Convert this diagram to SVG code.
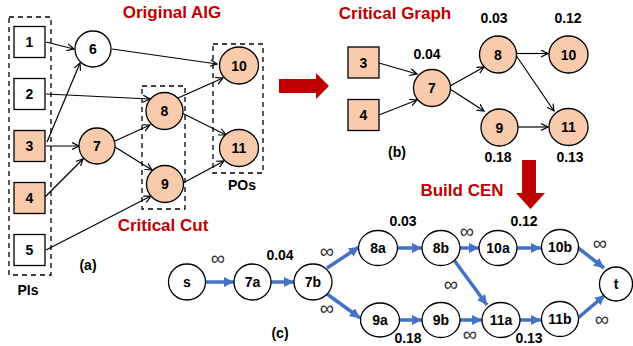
<svg xmlns="http://www.w3.org/2000/svg" width="633" height="346" viewBox="0 0 633 346">
<defs>
<marker id="ah" markerUnits="userSpaceOnUse" markerWidth="10" markerHeight="10" refX="7" refY="4" orient="auto">
<path d="M0,0.5 L7,4 L0,7.5" fill="none" stroke="#000" stroke-width="1.2"/>
</marker>
<marker id="bh" markerUnits="userSpaceOnUse" markerWidth="12" markerHeight="12" refX="10" refY="5" orient="auto">
<path d="M0,0 L10,5 L0,10 z" fill="#4472C4"/>
</marker>
<style>
text{font-family:"Liberation Sans",Arial,sans-serif;text-anchor:middle}
.lb{font-size:14px;font-weight:bold;fill:#000}
.ttl{font-size:17px;font-weight:bold;fill:#C00000}
.inf{font-size:20px;fill:#333}
.n{fill:#fff;stroke:#000;stroke-width:1.3}
.o{fill:#F8CBAD;stroke:#000;stroke-width:1.3}
.box{fill:none;stroke:#000;stroke-width:1.3;stroke-dasharray:5,4}
.e{stroke:#000;stroke-width:1.2;fill:none;marker-end:url(#ah)}
.b{stroke:#4472C4;stroke-width:3.5;fill:none;marker-end:url(#bh)}
</style>
</defs>

<!-- titles -->
<text class="ttl" x="172" y="18">Original AIG</text>
<text class="ttl" x="395" y="19">Critical Graph</text>
<text class="ttl" x="163" y="231">Critical Cut</text>
<text class="ttl" x="462" y="196">Build CEN</text>

<!-- big arrows -->
<path d="M279,79 H316 V73 L329,86 L316,99 V93 H279 Z" fill="#C00000"/>
<path d="M522,160 H536 V193 H545 L530.5,209 L516,193 H522 Z" fill="#C00000"/>

<!-- (a) dashed boxes -->
<rect class="box" x="9" y="17" width="42" height="258"/>
<rect class="box" x="142" y="86" width="43" height="123"/>
<rect class="box" x="213" y="44" width="50" height="129"/>
<text class="lb" x="242" y="190">POs</text>
<text class="lb" x="28" y="295">PIs</text>
<text class="lb" x="88" y="270">(a)</text>

<!-- (a) connectors -->
<g id="a-edges">
<line class="e" x1="46" y1="42" x2="74" y2="49"/>
<line class="e" x1="47" y1="142" x2="80" y2="63"/>
<line class="e" x1="112" y1="49" x2="217" y2="64"/>
<line class="e" x1="46" y1="94" x2="150" y2="99"/>
<line class="e" x1="46" y1="146" x2="79" y2="146"/>
<line class="e" x1="45" y1="197" x2="83" y2="159"/>
<line class="e" x1="115" y1="141" x2="150" y2="125"/>
<line class="e" x1="115" y1="147" x2="152" y2="170"/>
<line class="e" x1="46" y1="250" x2="151" y2="196"/>
<line class="e" x1="178" y1="98" x2="223" y2="78"/>
<line class="e" x1="182" y1="113" x2="226" y2="135"/>
<line class="e" x1="183" y1="183" x2="224" y2="161"/>
</g>

<!-- (a) nodes -->
<g id="a1"><rect class="n" x="14" y="26.5" width="31" height="31"/><text class="lb" x="29.5" y="47">1</text></g>
<g id="a2"><rect class="n" x="14" y="78.5" width="31" height="31"/><text class="lb" x="29.5" y="99">2</text></g>
<g id="a3"><rect class="o" x="14" y="130.5" width="31" height="31"/><text class="lb" x="29.5" y="151">3</text></g>
<g id="a4"><rect class="o" x="14" y="182.5" width="31" height="31"/><text class="lb" x="29.5" y="203">4</text></g>
<g id="a5"><rect class="n" x="14" y="234.5" width="31" height="31"/><text class="lb" x="29.5" y="255">5</text></g>
<g id="a6"><circle class="n" cx="93" cy="49" r="18"/><text class="lb" x="93" y="54">6</text></g>
<g id="a7"><circle class="o" cx="97" cy="146" r="18"/><text class="lb" x="97" y="151">7</text></g>
<g id="a8"><circle class="o" cx="164.5" cy="111" r="18.5"/><text class="lb" x="164.5" y="116">8</text></g>
<g id="a9"><circle class="o" cx="165" cy="184" r="18.5"/><text class="lb" x="165" y="189">9</text></g>
<g id="a10"><ellipse class="o" cx="239" cy="65.5" rx="19.5" ry="18.5"/><text class="lb" x="239" y="70.5">10</text></g>
<g id="a11"><ellipse class="o" cx="239" cy="148" rx="19.5" ry="18.5"/><text class="lb" x="239" y="153">11</text></g>

<!-- (b) -->
<g id="b-edges">
<line class="e" x1="379" y1="63" x2="417" y2="74"/>
<line class="e" x1="379" y1="115" x2="417" y2="100"/>
<line class="e" x1="450" y1="86" x2="484" y2="67"/>
<line class="e" x1="450" y1="89" x2="484" y2="111"/>
<line class="e" x1="516" y1="53.5" x2="548" y2="53.5"/>
<line class="e" x1="516.5" y1="56" x2="554" y2="111"/>
<line class="e" x1="518" y1="127" x2="548" y2="127"/>
</g>
<g id="b3"><rect class="o" x="348" y="47" width="31" height="31"/><text class="lb" x="363.5" y="67.5">3</text></g>
<g id="b4"><rect class="o" x="348" y="99.5" width="31" height="31"/><text class="lb" x="363.5" y="120">4</text></g>
<g id="b7"><circle class="o" cx="432" cy="88" r="18.5"/><text class="lb" x="432" y="93">7</text></g>
<g id="b8"><circle class="o" cx="498" cy="54.5" r="18.5"/><text class="lb" x="498" y="59.5">8</text></g>
<g id="b9"><circle class="o" cx="499.5" cy="127.5" r="18.5"/><text class="lb" x="499.5" y="132.5">9</text></g>
<g id="b10"><ellipse class="o" cx="568.5" cy="54.5" rx="19.5" ry="18.5"/><text class="lb" x="568.5" y="59.5">10</text></g>
<g id="b11"><ellipse class="o" cx="568.5" cy="127" rx="19.5" ry="18.5"/><text class="lb" x="568.5" y="132">11</text></g>
<text class="lb" x="427" y="59">0.04</text>
<text class="lb" x="494" y="23">0.03</text>
<text class="lb" x="568" y="23">0.12</text>
<text class="lb" x="498" y="162">0.18</text>
<text class="lb" x="570" y="162">0.13</text>
<text class="lb" x="397" y="157">(b)</text>

<!-- (c) -->
<g id="c-edges">
<line class="b" x1="205" y1="282" x2="234" y2="282"/>
<line class="b" x1="271" y1="282" x2="294" y2="282"/>
<line class="b" x1="327" y1="268" x2="359" y2="247"/>
<line class="b" x1="327" y1="294" x2="360" y2="318"/>
<line class="b" x1="397" y1="248" x2="422" y2="248"/>
<line class="b" x1="460" y1="248" x2="479" y2="248"/>
<line class="b" x1="517" y1="248" x2="541" y2="248"/>
<line class="b" x1="577" y1="247" x2="604" y2="268"/>
<line class="b" x1="454" y1="260" x2="487" y2="305"/>
<line class="b" x1="399" y1="320" x2="422" y2="320"/>
<line class="b" x1="460" y1="320" x2="482" y2="320"/>
<line class="b" x1="520" y1="320" x2="541" y2="320"/>
<line class="b" x1="578" y1="318" x2="605" y2="295"/>
</g>
<g id="cs"><ellipse class="n" cx="187" cy="282" rx="18.5" ry="18"/><text class="lb" x="187" y="287">s</text></g>
<g id="c7a"><ellipse class="n" cx="252.5" cy="282" rx="18.5" ry="18"/><text class="lb" x="252.5" y="287">7a</text></g>
<g id="c7b"><ellipse class="n" cx="313" cy="282" rx="19" ry="18"/><text class="lb" x="313" y="287">7b</text></g>
<g id="c8a"><ellipse class="n" cx="378" cy="248" rx="19.5" ry="17.5"/><text class="lb" x="378" y="253">8a</text></g>
<g id="c8b"><ellipse class="n" cx="441" cy="248" rx="19" ry="17.5"/><text class="lb" x="441" y="253">8b</text></g>
<g id="c10a"><ellipse class="n" cx="498" cy="248" rx="19" ry="17.5"/><text class="lb" x="498" y="253">10a</text></g>
<g id="c10b"><ellipse class="n" cx="560" cy="247" rx="18.5" ry="17.5"/><text class="lb" x="560" y="252">10b</text></g>
<g id="c9a"><ellipse class="n" cx="380" cy="320" rx="19.5" ry="17"/><text class="lb" x="380" y="325">9a</text></g>
<g id="c9b"><ellipse class="n" cx="441" cy="320" rx="19" ry="17.5"/><text class="lb" x="441" y="325">9b</text></g>
<g id="c11a"><ellipse class="n" cx="501" cy="320" rx="19" ry="17.5"/><text class="lb" x="501" y="325">11a</text></g>
<g id="c11b"><ellipse class="n" cx="560" cy="319" rx="18.5" ry="17.5"/><text class="lb" x="560" y="324">11b</text></g>
<g id="ct"><ellipse class="n" cx="616" cy="284" rx="16.5" ry="17"/><text class="lb" x="616" y="289">t</text></g>

<text class="inf" x="218" y="265">∞</text>
<text class="inf" x="327" y="258">∞</text>
<text class="inf" x="467" y="238">∞</text>
<text class="inf" x="600" y="250">∞</text>
<text class="inf" x="451" y="291">∞</text>
<text class="inf" x="327" y="315">∞</text>
<text class="inf" x="470" y="341">∞</text>
<text class="inf" x="602" y="326">∞</text>
<text class="lb" x="280" y="260">0.04</text>
<text class="lb" x="403" y="226">0.03</text>
<text class="lb" x="524" y="226">0.12</text>
<text class="lb" x="408" y="343">0.18</text>
<text class="lb" x="529" y="343">0.13</text>
<text class="lb" x="280" y="338">(c)</text>
</svg>
